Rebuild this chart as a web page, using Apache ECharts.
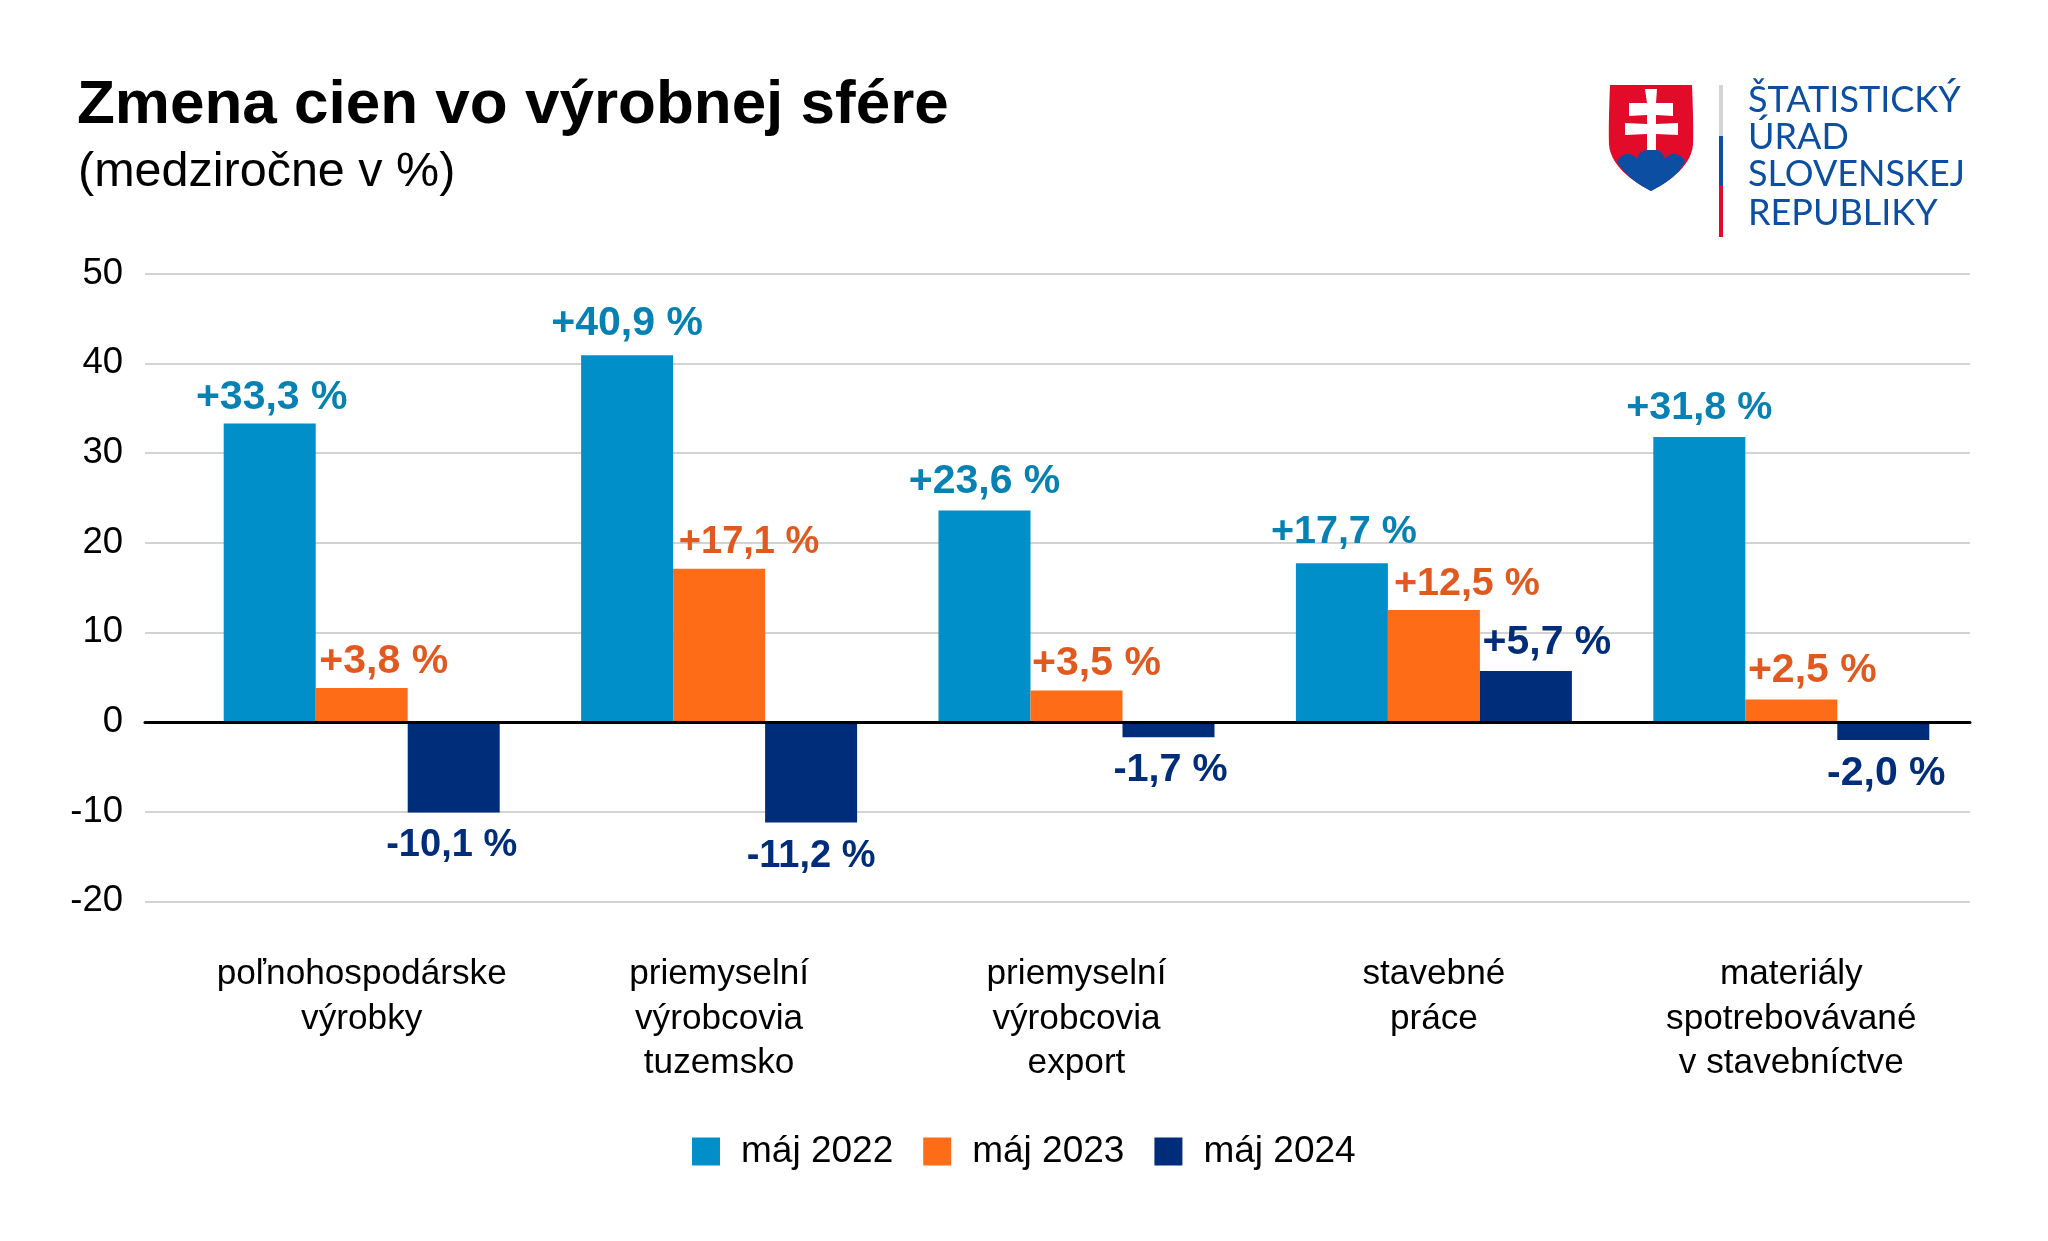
<!DOCTYPE html>
<html><head><meta charset="utf-8">
<style>html,body{margin:0;padding:0;background:#fff}#c{width:2048px;height:1241px}</style>
<script src="https://cdn.jsdelivr.net/npm/echarts@6/dist/echarts.min.js"></script>
</head><body><div id="c"></div>
<script>
const categories = ['poľnohospodárske\nvýrobky','priemyselní\nvýrobcovia\ntuzemsko','priemyselní\nvýrobcovia\nexport','stavebné\npráce','materiály\nspotrebovávané\nv stavebníctve'];
const seriesNames = ['máj 2022','máj 2023','máj 2024'];
const may2022 = [33.3,40.9,23.6,17.7,31.8];
const may2023 = [3.8,17.1,3.5,12.5,2.5];
const may2024 = [-10.1,-11.2,-1.7,5.7,-2.0];
const yTicks = {min:-20,max:50,interval:10};
const title = 'Zmena cien vo výrobnej sfére';
const subtitle = '(medziročne v %)';
const logoLines = ['ŠTATISTICKÝ','ÚRAD','SLOVENSKEJ','REPUBLIKY'];

const FONT = '"Liberation Sans", Arial, sans-serif';
const colors = ['#008FC9','#FF6C18','#002D7A'];
const labelColors = ['#0681B3','#E2591F','#002D7A'];
// nudges of the value labels, per series and category
const labelShift = [[2,0,0,2,0],[22,30,20,33,21],[-2,0,2,21,3]];
const labelLift = [[0,-6,-3,-6,-4],[-1,-2,-1,-1,-3],[7,8,6,-3,6]];

const fmt = v => (v>0?'+':'') + v.toFixed(1).replace('.',',') + ' %';
// the reference sets the digit 1 tightly; a slightly smaller size keeps those labels the same width
const labelSize = v => 41 - 1.5*(fmt(v).split('1').length-1);
const makeSeries = (name,vals,i) => ({
  type:'bar', name, xAxisIndex:1, yAxisIndex:1, barWidth:92, barGap:0,
  itemStyle:{color:colors[i]},
  data: vals.map((v,j)=>({
    value:v,
    label:{show:true, position:v<0?'bottom':'top', distance:v<0?7:5,
      offset:[labelShift[i][j],labelLift[i][j]], formatter:fmt(v),
      color:labelColors[i], fontFamily:FONT, fontWeight:'bold', fontSize:labelSize(v)}
  }))
});

// logo outline helper: sample cubic curves into polygon points
function outline(start,segs){
  const pts=[start]; let p=start;
  segs.forEach(s=>{
    if(s.length===2){pts.push(s);p=s;return;}
    const [x1,y1,x2,y2,x,y]=s;
    for(let k=1;k<=14;k++){const t=k/14,u=1-t;
      pts.push([u*u*u*p[0]+3*u*u*t*x1+3*u*t*t*x2+t*t*t*x,u*u*u*p[1]+3*u*u*t*y1+3*u*t*t*y2+t*t*t*y]);}
    p=[s[4],s[5]];
  });
  return pts;
}
const shield = outline([1610,85],[[1692,85],[1693,110,1693.5,130,1693,145],[1691,165,1672,180,1651,191],[1630,180,1611,165,1609,145],[1608.5,130,1609,110,1610,85]]);
const hills = outline([1617,162],[[1620,153,1632,151,1637,159],[1638,153,1644,149,1651,149],[1658,149,1664,153,1665,159],[1670,151,1682,153,1685,162],[1678,175,1665,184,1651,191],[1637,184,1625,175,1617,162]]);
const cross = [[1645,89],[1657,89],[1656,103],[1673,103],[1673,116],[1656,115],[1656,124],[1678,123],[1678,135],[1656,134],[1656,150],[1647,150],[1647,134],[1625,135],[1625,123],[1647,124],[1647,115],[1629,116],[1629,103],[1647,103]];

const chart = echarts.init(document.getElementById('c'),null,{renderer:'canvas'});
const logoText = logoLines.map((t,i)=>({
  type:'text', x:1748, y:[118,155.5,192.5,231][i],
  style:{text:t, fill:'#0B4EA2', font:'400 36px Lato, sans-serif', textAlign:'left', textVerticalAlign:'bottom'}
}));
chart.setOption({
  animation:false, backgroundColor:'#fff',
  title:[
    {text:title,left:77,top:75,padding:0,textStyle:{fontFamily:FONT,fontWeight:'bold',fontSize:62,color:'#000'}},
    {text:subtitle,left:78,top:148,padding:0,textStyle:{fontFamily:FONT,fontWeight:'normal',fontSize:48.5,color:'#000'}}
  ],
  legend:{data:seriesNames,left:692,top:1133,itemWidth:28,itemHeight:28,itemGap:30,padding:0,
    textStyle:{fontFamily:FONT,fontSize:37,color:'#000',padding:[0,0,0,16]},icon:'rect'},
  grid:[
    {left:145,width:1825,top:273.7,height:627.6},
    {left:183,width:1787,top:273.7,height:627.6}
  ],
  xAxis:[
    {gridIndex:0,type:'value',min:0,max:1,z:5,axisLine:{show:true,onZero:true,lineStyle:{color:'#000',width:3}},
      axisTick:{show:false},axisLabel:{show:false},splitLine:{show:false}},
    {gridIndex:1,type:'category',data:categories,position:'bottom',axisLine:{show:false,onZero:false},axisTick:{show:false},
      axisLabel:{margin:51,interval:0,fontFamily:FONT,fontSize:35.2,lineHeight:44.4,color:'#000',verticalAlign:'top'}}
  ],
  yAxis:[
    {gridIndex:0,type:'value',...yTicks,axisLine:{show:false},axisTick:{show:false},
      axisLabel:{margin:22,fontFamily:FONT,fontSize:36.5,color:'#000',padding:[0,0,2,0]},
      splitLine:{show:true,lineStyle:{color:'#C4C4C4',width:1.6}}},
    {gridIndex:1,type:'value',...yTicks,show:false,splitLine:{show:false}}
  ],
  series:[makeSeries(seriesNames[0],may2022,0),makeSeries(seriesNames[1],may2023,1),makeSeries(seriesNames[2],may2024,2)],
  graphic:[
    {type:'polygon',shape:{points:shield},style:{fill:'#E30B2A'}},
    {type:'polygon',shape:{points:hills},style:{fill:'#0B4EA2'}},
    {type:'polygon',shape:{points:cross},style:{fill:'#fff'}},
    {type:'rect',shape:{x:1719,y:85,width:4,height:51},style:{fill:'#D2D4D5'}},
    {type:'rect',shape:{x:1719,y:136,width:4,height:50},style:{fill:'#0B4EA2'}},
    {type:'rect',shape:{x:1719,y:186,width:4,height:51},style:{fill:'#E30B2A'}},
    ...logoText
  ]
});
</script></body></html>
